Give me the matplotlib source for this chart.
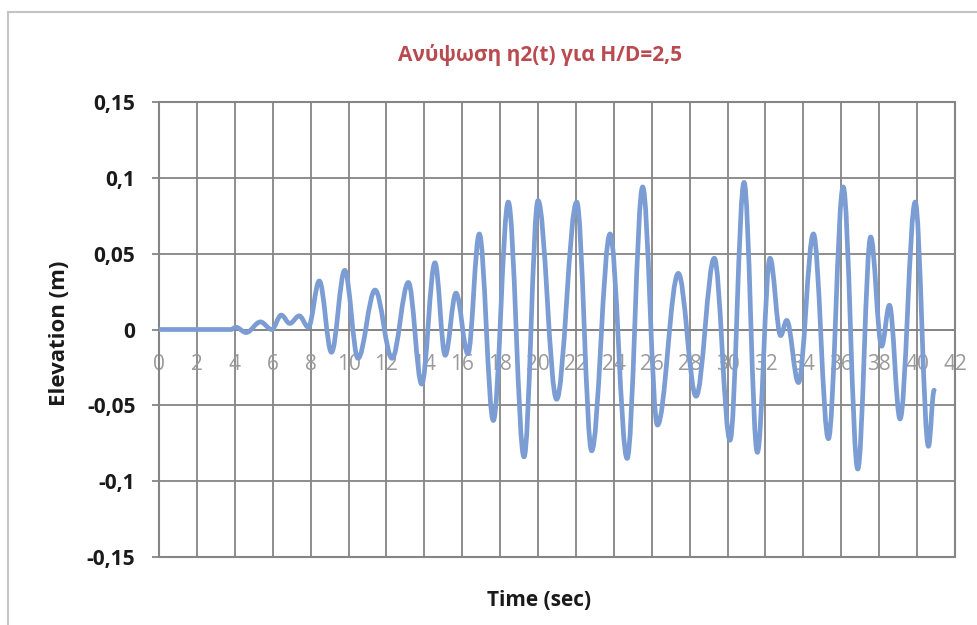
import matplotlib
matplotlib.use("Agg")
import matplotlib.pyplot as plt
from matplotlib.path import Path
from matplotlib.patches import PathPatch, Rectangle
from matplotlib.lines import Line2D

# Free-surface elevation record: turning points of the η2(t) trace
time_s = [0.0, 3.8, 4.05, 4.6, 5.35, 5.95, 6.45, 6.9, 7.4, 7.88,
          8.46, 9.1, 9.8, 10.5, 11.4, 12.3, 13.16, 13.86, 14.56, 15.1,
          15.67, 16.3, 16.9, 17.64, 18.43, 19.26, 20.0, 20.98, 22.04, 22.83,
          23.8, 24.7, 25.52, 26.3, 27.4, 28.34, 29.3, 30.13, 30.87, 31.57,
          32.24, 32.8, 33.12, 33.74, 34.53, 35.32, 36.1, 36.87, 37.55, 38.13,
          38.54, 39.1, 39.9, 40.6, 40.9]
elevation_m = [0.0, 0.0, 0.0015, -0.002, 0.005, 0.0, 0.0095, 0.004, 0.009, 0.0015,
               0.032, -0.015, 0.039, -0.019, 0.026, -0.019, 0.031, -0.036, 0.044, -0.017,
               0.024, -0.016, 0.063, -0.060, 0.084, -0.084, 0.085, -0.046, 0.084, -0.080,
               0.063, -0.085, 0.094, -0.063, 0.037, -0.044, 0.047, -0.073, 0.097, -0.081,
               0.047, -0.004, 0.006, -0.035, 0.063, -0.072, 0.094, -0.092, 0.061, -0.011,
               0.016, -0.059, 0.084, -0.077, -0.040]

x_ticks = list(range(0, 43, 2))
y_ticks = [-0.15, -0.1, -0.05, 0.0, 0.05, 0.1, 0.15]
y_tick_labels = ["-0,15", "-0,1", "-0,05", "0", "0,05", "0,1", "0,15"]

title_text = "Ανύψωση η2(t) για H/D=2,5"
x_label = "Time (sec)"
y_label = "Elevation (m)"

FONT = ["Open Sans", "DejaVu Sans"]
GRID = "#858585"
LINE = "#7b9dd3"

fig = plt.figure(figsize=(9.78, 6.25), dpi=100)
fig.patch.set_facecolor("white")
ax = fig.add_axes([159 / 978, 68 / 625, 796 / 978, 455 / 625])

ax.set_xlim(0, 42)
ax.set_ylim(-0.15, 0.15)
ax.set_xticks(x_ticks)
ax.set_yticks(y_ticks)
ax.set_yticklabels(y_tick_labels)
ax.grid(True, color=GRID, linewidth=1.3)
ax.set_axisbelow(True)

# x axis crosses at zero elevation, labels sit just under the zero line
for s in ["top", "right", "left"]:
    ax.spines[s].set_visible(False)
ax.spines["bottom"].set_position(("data", 0))
ax.spines["bottom"].set_color(GRID)
ax.spines["bottom"].set_linewidth(1.3)
ax.add_patch(Rectangle((0, 0), 1, 1, transform=ax.transAxes, fill=False,
                       edgecolor=GRID, linewidth=1.5, clip_on=False, zorder=1))

ax.tick_params(axis="x", length=0, pad=18, labelsize=15, labelcolor="#9a9a9a")
ax.tick_params(axis="y", length=5, width=1.3, color=GRID, pad=12,
               labelsize=15, labelcolor="#1a1a1a")
for lab in ax.get_xticklabels():
    lab.set_fontfamily(FONT)
for lab in ax.get_yticklabels():
    lab.set_fontfamily(FONT)
    lab.set_fontweight("bold")

# smoothed trace: cubic segments with flat tangents at each turning point
k = 0.36
verts = [(time_s[0], elevation_m[0])]
codes = [Path.MOVETO]
for i in range(len(time_s) - 1):
    t0, y0 = time_s[i], elevation_m[i]
    t1, y1 = time_s[i + 1], elevation_m[i + 1]
    dt = t1 - t0
    verts += [(t0 + k * dt, y0), (t1 - k * dt, y1), (t1, y1)]
    codes += [Path.CURVE4] * 3
trace = PathPatch(Path(verts, codes), facecolor="none", edgecolor=LINE,
                  linewidth=3.4, capstyle="round", joinstyle="round", zorder=3)
ax.add_patch(trace)

fig.text(540 / 978, 1 - 55 / 625, title_text, ha="center", va="center",
         fontsize=15, fontweight="bold", color="#b94a4f", family=FONT)
fig.text(539 / 978, 1 - 601 / 625, x_label, ha="center", va="center",
         fontsize=15, fontweight="bold", color="#1a1a1a", family=FONT)
fig.text(60 / 978, 1 - 333 / 625, y_label, ha="center", va="center",
         rotation=90, fontsize=16, fontweight="bold", color="#1a1a1a", family=FONT)

# chart area border
fig.add_artist(Line2D([8 / 978, 1.0], [1 - 12 / 625, 1 - 12 / 625],
                      color="#c4c4c4", linewidth=1.5))
fig.add_artist(Line2D([8 / 978, 8 / 978], [0.0, 1 - 12 / 625],
                      color="#c4c4c4", linewidth=1.5))

fig.savefig("out.png", dpi=100, facecolor="white")
